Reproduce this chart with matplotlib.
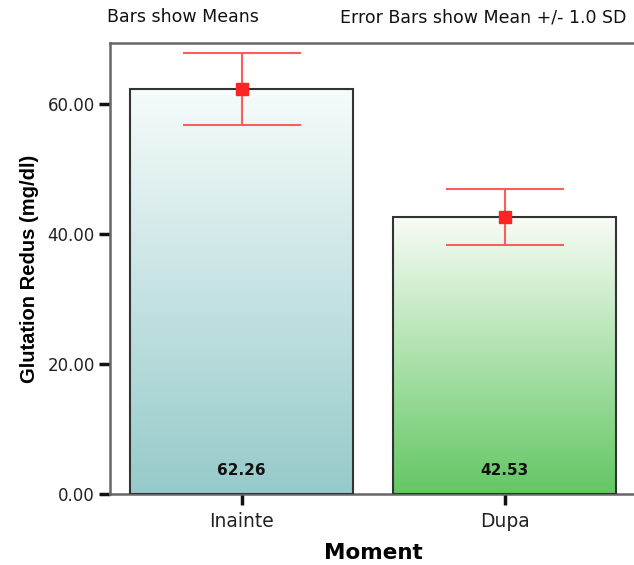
import numpy as np
import matplotlib
matplotlib.use('Agg')
import matplotlib.pyplot as plt
from matplotlib.colors import LinearSegmentedColormap

plt.rcParams['font.family'] = 'sans-serif'
plt.rcParams['font.sans-serif'] = ['DejaVu Sans']

# date
categories = ['Inainte', 'Dupa']
means = [62.26, 42.53]
sds = [5.6, 4.3]
value_labels = ['62.26', '42.53']
yticks = [0, 20, 40, 60]
ytick_labels = ['0.00', '20.00', '40.00', '60.00']

# culori gradient (sus -> jos)
bar_colors = [('#f6fbfb', '#96caca'), ('#f8fcf6', '#63c763')]

fig = plt.figure(figsize=(6.34, 5.65), dpi=100)
ax = fig.add_axes([0.1735, 0.1262, 0.8297, 0.7972])

x = np.arange(len(categories))
bars = ax.bar(x, means, width=0.848, facecolor='none', edgecolor='#333333',
              linewidth=1.5, zorder=3)

# umplere cu gradient pentru fiecare bara
grad = np.linspace(1, 0, 256).reshape(-1, 1)
for bar, (c_top, c_bot) in zip(bars, bar_colors):
    bx, by = bar.get_xy()
    w, h = bar.get_width(), bar.get_height()
    cmap = LinearSegmentedColormap.from_list('g', [c_bot, c_top])
    im = ax.imshow(grad, cmap=cmap, aspect='auto', origin='upper',
                   extent=(bx, bx + w, by, by + h), zorder=2)
    im.set_clip_path(bar)

# bare de eroare
ax.errorbar(x, means, yerr=sds, fmt='none', ecolor='#ff5c5c', elinewidth=1.5,
            capsize=42.5, capthick=1.5, zorder=4)
ax.plot(x, means, 's', color='#ff2424', markersize=9, zorder=5)

# etichete valori in bare
for xi, lab in zip(x, value_labels):
    ax.annotate(lab, (xi, 0), xytext=(0, 17), textcoords='offset points',
                ha='center', va='center', fontsize=11, fontweight='bold',
                color='#111111', zorder=6)

ax.set_xlim(-0.5, 1.5)
ax.set_ylim(0, 69.3)
ax.set_xticks(x)
ax.set_xticklabels(categories, fontsize=13.5, color='#222222')
ax.set_yticks(yticks)
ax.set_yticklabels(ytick_labels, fontsize=12, color='#222222')
ax.tick_params(axis='both', length=8, width=2.5, color='#111111')
ax.tick_params(axis='y', pad=3)
ax.tick_params(axis='x', pad=5)

for side in ['left', 'top', 'bottom']:
    ax.spines[side].set_color('#666666')
    ax.spines[side].set_linewidth(1.8)
ax.spines['right'].set_visible(False)

ax.set_ylabel('Glutation Redus (mg/dl)', fontsize=14.5, fontweight='bold',
              family='Liberation Sans', labelpad=6)
ax.set_xlabel('Moment', fontsize=15.5, fontweight='bold', labelpad=9)

fig.text(107 / 634, 1 - 17 / 565, 'Bars show Means', fontsize=12.5,
         ha='left', va='center', color='#111111')
fig.text(340 / 634, 1 - 17 / 565, 'Error Bars show Mean +/- 1.0 SD',
         fontsize=12.5, ha='left', va='center', color='#111111')

fig.savefig('out.png', dpi=100)
